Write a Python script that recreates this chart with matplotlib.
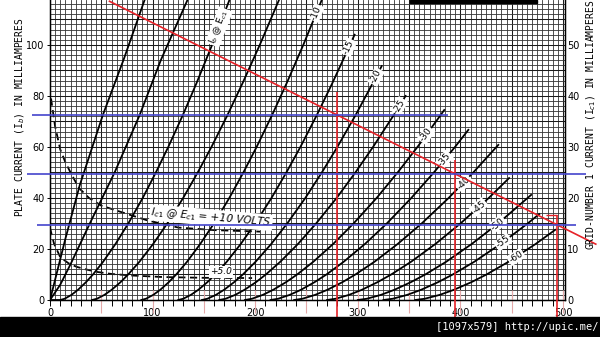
import numpy as np
import matplotlib
matplotlib.use("Agg")
import matplotlib.pyplot as plt
from matplotlib.patches import Rectangle

# plate current steps (mA) shared by the negative-grid curves
ib_steps = [0, 0.5, 2, 4, 7, 10, 15, 22, 30, 40, 50, 60, 72.5, 85, 100, 117.6]

# plate curves: Eb (volts) vs Ib (mA), one pair per Ec1
eb_p10 = [0, 15, 29, 51.5, 72, 92.2]
ib_p10 = [0, 24, 45, 72.5, 94.5, 117.6]
eb_p5 = [0, 10, 20, 40, 63, 87.4, 108, 134]
ib_p5 = [0, 6, 14, 31, 50, 72.5, 94, 117.6]
eb_0 = [0, 10, 14.3, 20.9, 27.3, 35.1, 41.9, 51.8, 63.9, 76.3, 90.4, 103.2, 115.3, 129.5, 142.8, 158, 174.9]
ib_0 = [0] + ib_steps
eb_m5 = [41, 45.8, 53, 60.1, 68.8, 76.2, 87.2, 100.6, 114.3, 129.8, 144, 157.4, 173, 187.7, 204.5, 223.2]
ib_m5 = ib_steps
eb_m10 = [89, 93.6, 100.6, 107.5, 115.8, 123, 133.6, 146.5, 159.8, 174.8, 188.5, 201.4, 216.5, 230.7, 246.9, 264.9]
ib_m10 = ib_steps
eb_m15 = [125, 129.9, 137.3, 144.6, 153.4, 161.1, 172.3, 186, 200, 215.9, 230.4, 244.1, 260.1, 275.2, 292.4, 296.9]
ib_m15 = ib_steps[:15] + [104]
eb_m20 = [148, 153.4, 161.7, 169.7, 179.5, 188, 200.4, 215.7, 231.2, 248.9, 265, 280.1, 297.9, 314.6, 323.3]
ib_m20 = ib_steps[:14] + [91.7]
eb_m25 = [165, 171.2, 180.5, 189.6, 200.8, 210.4, 224.5, 241.8, 259.4, 279.4, 297.7, 314.9, 335.1, 346.6]
ib_m25 = ib_steps[:13] + [80]
eb_m30 = [190, 196.9, 207.4, 217.6, 230.1, 240.9, 256.7, 276.1, 295.9, 318.4, 338.9, 358.2, 380.8, 384.3]
ib_m30 = ib_steps[:13] + [74.5]
eb_m35 = [215, 222.4, 233.6, 244.6, 257.9, 269.5, 286.3, 307.1, 328.3, 352.2, 374.2, 394.8, 407.8]
ib_m35 = ib_steps[:12] + [66.7]
eb_m40 = [238, 246.1, 258.4, 270.4, 285.1, 297.7, 316.3, 339, 362.3, 388.6, 412.6, 437]
ib_m40 = ib_steps[:11] + [60.8]
eb_m45 = [270, 278.5, 291.4, 304, 319.3, 332.6, 352, 375.8, 400.1, 427.7, 447.5]
ib_m45 = ib_steps[:10] + [47.8]
eb_m50 = [300, 308.9, 322.5, 335.7, 351.8, 365.8, 386.2, 411.2, 436.8, 469]
ib_m50 = ib_steps[:9] + [41.2]
eb_m55 = [325, 334.2, 348.1, 361.7, 378.3, 392.6, 413.6, 439.3, 465.6, 476.9]
ib_m55 = ib_steps[:9] + [33.7]
eb_m60 = [356, 365.4, 379.8, 393.7, 410.8, 425.5, 447, 473.5, 492.4]
ib_m60 = ib_steps[:8] + [27.5]

curve_names = ["-10", "-15", "-20", "-25", "-30", "-35", "-40", "-45", "-50", "-55", "-60"]
label_ib = [112.5, 99, 87.5, 76, 64.7, 55, 46, 36.5, 29.8, 22.7, 16.9]

# grid-number-1 current (right axis, mA)
eb_g10 = [1, 5, 10, 15, 20, 28, 38, 50, 70, 95, 125, 160, 205]
ic_g10 = [39.5, 34, 29.5, 27, 25, 22, 20, 18.5, 17.2, 15.6, 14.2, 13.7, 13.4]
eb_g5 = [0, 4, 10, 18, 26, 35, 46, 60, 80, 110, 150, 197]
ic_g5 = [14.1, 11, 8.4, 7.2, 6.5, 6.0, 5.5, 5.1, 4.8, 4.5, 4.35, 4.3]

# hand-drawn load line and operating points
load_eb = [58, 532]
load_ib = [117.1, 21.9]
q_eb = [280, 395, 494.5]
q_top = [81.7, 55, 33.3]
blue_ib = [72.5, 49.4, 29.4]
blue_from = [-17.5, -22, -12.6]
blue_to = [388, 522, 512.6]

RED = "#e62228"
BLUE = "#4444cc"

fig = plt.figure(figsize=(6, 3.37), dpi=100)
fig.patch.set_facecolor("white")
ax = fig.add_axes([50 / 600, 1 - 300 / 337, 515 / 600, 300 / 337])
ax2 = ax.twinx()
ax.set_zorder(ax2.get_zorder() + 1)
ax.patch.set_visible(False)
ax.set_xlim(0, 502)
ax.set_ylim(0, 117.6)
ax2.set_ylim(0, 58.8)

# graph paper
for v in np.arange(0, 501, 5):
    heavy = v % 50 == 0
    ax.axvline(v, color="#1a1a1a" if heavy else "#333", lw=0.75 if heavy else 0.6, zorder=1)
for h in np.arange(0, 118, 2):
    heavy = h % 10 == 0
    ax.axhline(h, color="#1a1a1a" if heavy else "#333", lw=0.75 if heavy else 0.6, zorder=1)
ax.vlines(np.arange(50, 501, 50), -5, 4, color="#e4a8a8", lw=0.8, clip_on=False, zorder=2)

ax.spines["top"].set_visible(False)
ax2.spines["top"].set_visible(False)
for s in ["left", "bottom", "right"]:
    ax.spines[s].set_linewidth(1.0)

plate_curves = [
    (eb_p10, ib_p10), (eb_p5, ib_p5), (eb_0, ib_0), (eb_m5, ib_m5), (eb_m10, ib_m10),
    (eb_m15, ib_m15), (eb_m20, ib_m20), (eb_m25, ib_m25), (eb_m30, ib_m30), (eb_m35, ib_m35),
    (eb_m40, ib_m40), (eb_m45, ib_m45), (eb_m50, ib_m50), (eb_m55, ib_m55), (eb_m60, ib_m60),
]
for eb, ib in plate_curves:
    ax.plot(eb, ib, color="black", lw=1.3, zorder=3)


def angle_at(eb, ib, at):
    p0 = ax.transData.transform((np.interp(at - 3, ib, eb), at - 3))
    p1 = ax.transData.transform((np.interp(at + 3, ib, eb), at + 3))
    return np.degrees(np.arctan2(p1[1] - p0[1], p1[0] - p0[0]))


box = dict(boxstyle="square,pad=0.12", fc="white", ec="none")
for (eb, ib), name, at in zip(plate_curves[4:], curve_names, label_ib):
    ax.text(np.interp(at, ib, eb), at, name, rotation=angle_at(eb, ib, at),
            rotation_mode="anchor", ha="center", va="center", fontsize=6.5,
            bbox=box, zorder=4)
ax.text(np.interp(107, ib_0, eb_0), 107, "I$_b$ @ E$_{c1}$", rotation=angle_at(eb_0, ib_0, 107),
        rotation_mode="anchor", ha="center", va="center", fontsize=6.5, bbox=box, zorder=4)

ax2.plot(eb_g10, ic_g10, color="black", lw=1.3, ls=(0, (4, 2.5)))
ax2.plot(eb_g5, ic_g5, color="black", lw=1.3, ls=(0, (4, 2.5)))
ax.text(157, 32.3, "I$_{c1}$ @ E$_{c1}$ = +10 VOLTS", rotation=-5, rotation_mode="anchor",
        ha="center", va="center", fontsize=7.5, style="italic", bbox=box, zorder=4)
ax.text(167, 11, "+5.0", ha="center", va="center", fontsize=6.5, style="italic", bbox=box, zorder=4)

# load line and operating points
ax.plot(load_eb, load_ib, color=RED, lw=1.2, clip_on=False, zorder=6)
ax.vlines(q_eb, -7, q_top, color=RED, lw=1.2, clip_on=False, zorder=6)
ax.hlines(q_top[-1], 483, q_eb[-1], color=RED, lw=1.0, zorder=6)
ax.hlines(blue_ib, blue_from, blue_to, color=BLUE, lw=1.2, clip_on=False, zorder=6)

ax.set_xticks(np.arange(0, 501, 100))
ax.set_xticks(np.arange(0, 501, 10), minor=True)
ax.tick_params(axis="x", which="both", direction="out", length=4, width=0.7, pad=1.5, labelsize=7)
ax.set_yticks(np.arange(0, 101, 20))
ax.tick_params(axis="y", length=2, width=0.7, pad=2, labelsize=7)
ax2.set_yticks(np.arange(0, 51, 10))
ax2.tick_params(axis="y", length=0, pad=1.5, labelsize=7)

fig.text(20 / 600, 1 - 117 / 337, "PLATE CURRENT (I$_b$) IN MILLIAMPERES", rotation=90,
         ha="center", va="center", family="DejaVu Sans Mono", fontsize=7)
fig.text(591 / 600, 1 - 250 / 337, "GRID-NUMBER 1 CURRENT (I$_{c1}$) IN MILLIAMPERES", rotation=90,
         ha="center", va="bottom", family="DejaVu Sans Mono", fontsize=7)

# scan frame bits
fig.add_artist(Rectangle((0, 0), 1, 20 / 337, transform=fig.transFigure, color="black", zorder=10))
fig.add_artist(Rectangle((410 / 600, 1 - 2.5 / 337), 127 / 600, 2.5 / 337,
                         transform=fig.transFigure, color="black", zorder=10))
fig.text(0.997, 10 / 337, "[1097x579] http://upic.me/", ha="right", va="center", color="white",
         family="DejaVu Sans Mono", fontsize=7.5, zorder=11)

fig.savefig("out.png", dpi=100)
